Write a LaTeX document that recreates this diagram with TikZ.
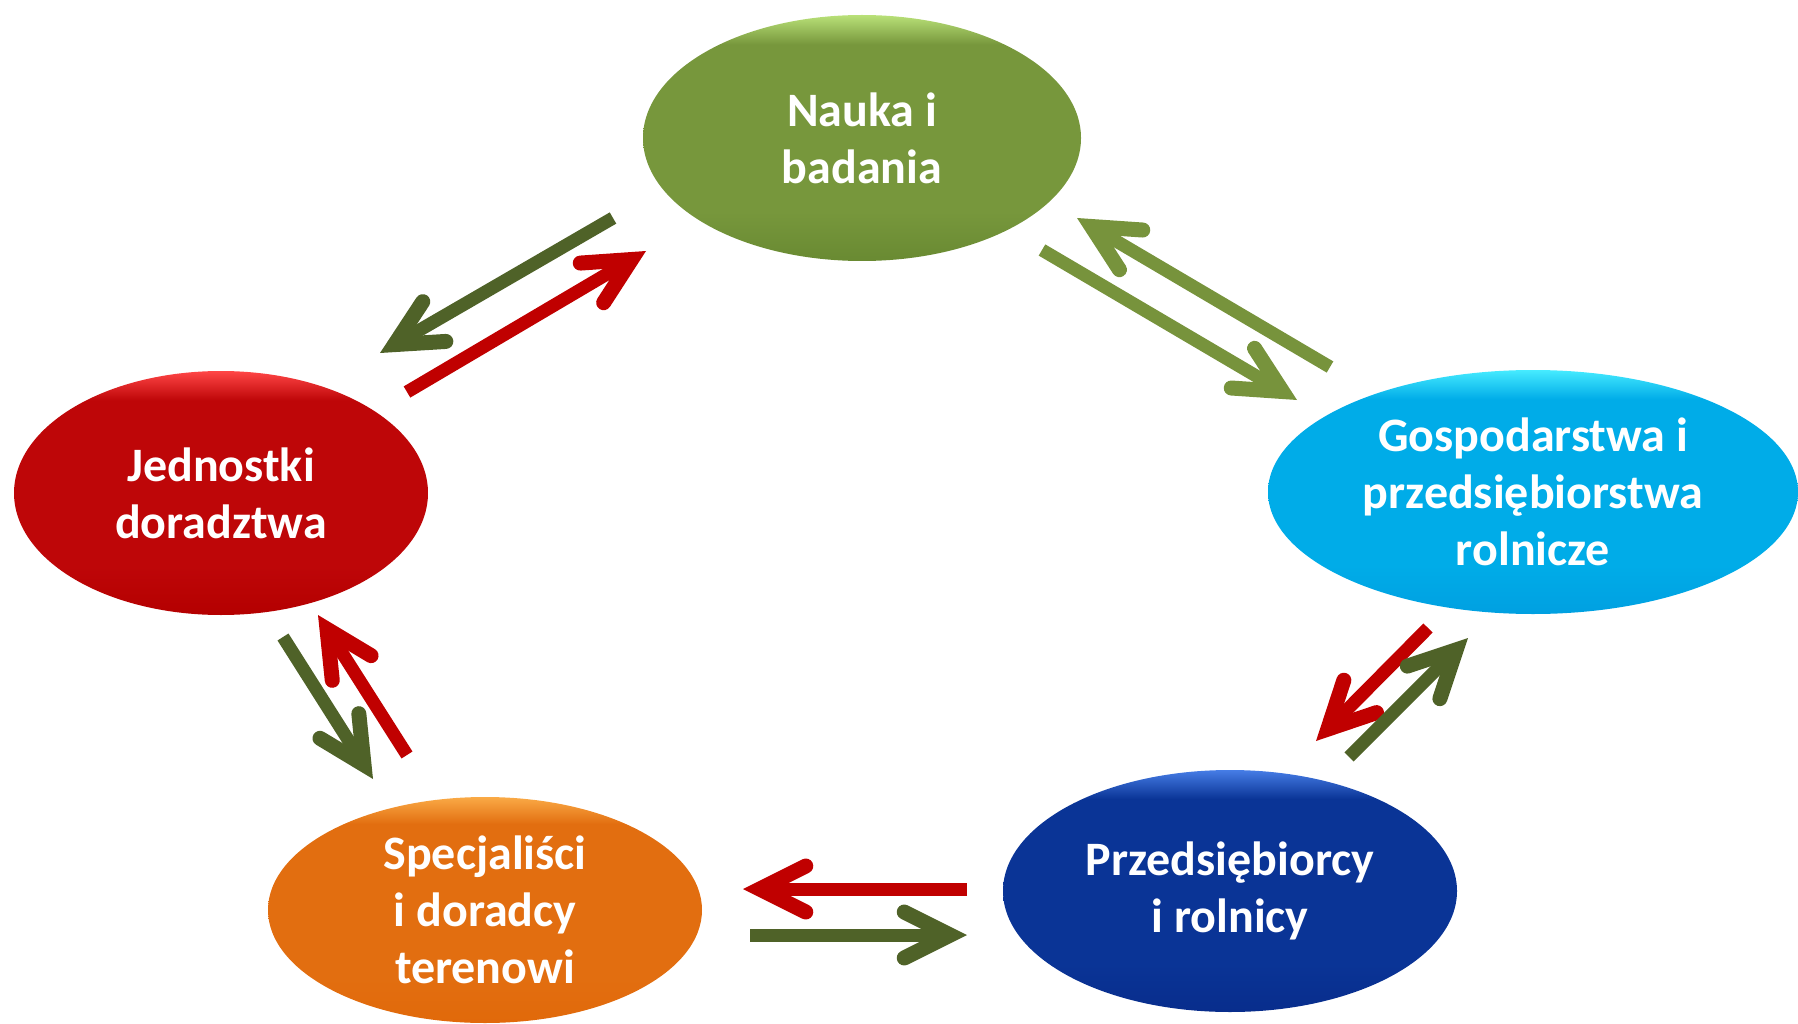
\documentclass[tikz,border=0pt]{standalone}
\usepackage{fontspec}
\setmainfont{Carlito}
\usetikzlibrary{arrows.meta,shapes.geometric}
\definecolor{gM}{RGB}{119,151,60}\definecolor{gT}{RGB}{185,225,120}\definecolor{gB}{RGB}{105,138,50}
\definecolor{rM}{RGB}{190,6,8}\definecolor{rT}{RGB}{255,70,70}\definecolor{rB}{RGB}{180,0,0}
\definecolor{cM}{RGB}{0,172,232}\definecolor{cT}{RGB}{70,235,255}\definecolor{cB}{RGB}{0,160,225}
\definecolor{bM}{RGB}{10,52,150}\definecolor{bT}{RGB}{70,125,230}\definecolor{bB}{RGB}{8,45,140}
\definecolor{oM}{RGB}{226,110,16}\definecolor{oT}{RGB}{250,170,70}\definecolor{oB}{RGB}{225,105,10}
\definecolor{arDark}{RGB}{79,98,40}
\definecolor{arLight}{RGB}{119,147,60}
\definecolor{arRed}{RGB}{192,0,0}
\newcommand{\mkshade}[4]{\pgfdeclareverticalshading{#1}{100bp}{color(0bp)=(#2); color(25bp)=(#2); color(35bp)=(#3); color(69bp)=(#3); color(75bp)=(#4); color(100bp)=(#4)}}
\mkshade{shG}{gB}{gM}{gT}
\mkshade{shR}{rB}{rM}{rT}
\mkshade{shC}{cB}{cM}{cT}
\mkshade{shB}{bB}{bM}{bT}
\mkshade{shO}{oB}{oM}{oT}
\tikzset{
  blob/.style={ellipse, inner sep=0pt, text=white, align=center,
    font=\fontsize{48}{57}\selectfont\bfseries},
  flow/.style={line width=13pt, line cap=butt,
    -{Straight Barb[length=46pt, width=46pt, line width=15pt, line cap=round, line join=miter]}},
}
\begin{document}
\begin{tikzpicture}[x=1pt,y=-1pt]
\useasboundingbox (0,0) rectangle (1798,1024);
\node[blob, shading=shG, minimum width=438pt, minimum height=246pt] (nauka) at (862,138) {Nauka i\\badania};
\node[blob, shading=shR, minimum width=414pt, minimum height=244pt] (jedn) at (221,493) {Jednostki\\doradztwa};
\node[blob, shading=shC, minimum width=530pt, minimum height=244pt] (gosp) at (1533,492) {Gospodarstwa i\\przedsiębiorstwa\\rolnicze};
\node[blob, shading=shB, minimum width=454pt, minimum height=242pt] (przed) at (1230,891) {Przedsiębiorcy\\i rolnicy};
\node[blob, shading=shO, minimum width=434pt, minimum height=226pt] (spec) at (485,910) {Specjaliści\\i doradcy\\terenowi};
% arrow end points
\coordinate (a1s) at (613,218); \coordinate (a1e) at (380,353);
\coordinate (a2s) at (407,392); \coordinate (a2e) at (646,251);
\coordinate (a3s) at (1330,367); \coordinate (a3e) at (1077,218);
\coordinate (a4s) at (1042,250); \coordinate (a4e) at (1297,400);
\coordinate (a5s) at (1428,628); \coordinate (a5e) at (1316,741);
\coordinate (a6s) at (1349,757); \coordinate (a6e) at (1468,638);
\coordinate (a7s) at (407,755); \coordinate (a7e) at (318,615);
\coordinate (a8s) at (283,637); \coordinate (a8e) at (373,779);
\coordinate (a9s) at (967,889); \coordinate (a9e) at (743,889);
\coordinate (a10s) at (750,935); \coordinate (a10e) at (967,935);
\draw[flow, arDark] (a1s) -- (a1e);
\draw[flow, arRed] (a2s) -- (a2e);
\draw[flow, arLight] (a3s) -- (a3e);
\draw[flow, arLight] (a4s) -- (a4e);
\draw[flow, arRed] (a5s) -- (a5e);
\draw[flow, arDark] (a6s) -- (a6e);
\draw[flow, arRed] (a7s) -- (a7e);
\draw[flow, arDark] (a8s) -- (a8e);
\draw[flow, arRed] (a9s) -- (a9e);
\draw[flow, arDark] (a10s) -- (a10e);
\end{tikzpicture}
\end{document}
